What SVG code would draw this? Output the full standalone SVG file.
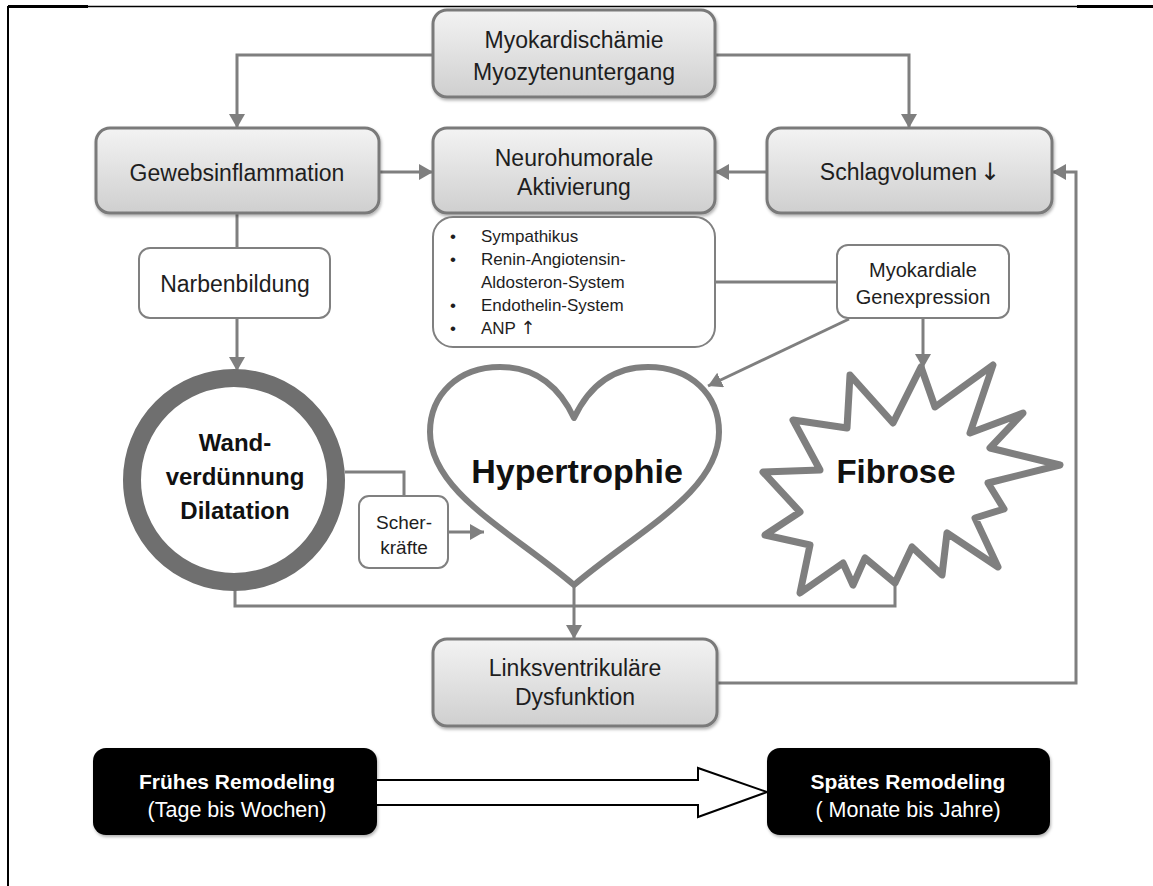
<svg xmlns="http://www.w3.org/2000/svg" width="1153" height="886" viewBox="0 0 1153 886">
<style>
.lbl{font-family:"Liberation Sans",Arial,sans-serif;font-size:23px;fill:#1e1e1e;text-anchor:middle}
.sm{font-family:"Liberation Sans",Arial,sans-serif;font-size:17px;fill:#1e1e1e}
.arr{font-family:"DejaVu Sans",sans-serif}
.bold{font-family:"Liberation Sans",Arial,sans-serif;font-weight:bold;fill:#111;text-anchor:middle}
.wt{font-family:"Liberation Sans",Arial,sans-serif;fill:#fff;text-anchor:middle}
.gbox{fill:url(#g);stroke:#7a7a7a;stroke-width:3;filter:url(#sh)}
.wbox{fill:#fff;stroke:#808080;stroke-width:2}
.con{fill:none;stroke:#7f7f7f;stroke-width:3}
.bbox{fill:#000;filter:url(#sh)}
</style>
<defs>
<linearGradient id="g" x1="0" y1="0" x2="0" y2="1">
<stop offset="0" stop-color="#f3f3f3"/>
<stop offset="1" stop-color="#cfcfcf"/>
</linearGradient>
<filter id="sh" x="-10%" y="-10%" width="120%" height="130%">
<feDropShadow dx="1" dy="2" stdDeviation="1.5" flood-color="#000" flood-opacity="0.3"/>
</filter>
<marker id="ah" viewBox="0 0 14 16" refX="14" refY="8" markerWidth="14" markerHeight="16" markerUnits="userSpaceOnUse" orient="auto">
<path d="M0,0 L14,8 L0,16 z" fill="#7f7f7f"/>
</marker>
</defs>
<rect width="1153" height="886" fill="#fff"/>
<g id="frame">
<line x1="8" y1="6" x2="8" y2="886" stroke="#000" stroke-width="2"/>
<line x1="8" y1="6.5" x2="1153" y2="6.5" stroke="#000" stroke-width="1.5"/>
<line x1="8" y1="6.5" x2="88" y2="6.5" stroke="#000" stroke-width="3"/>
<line x1="1077" y1="6.5" x2="1153" y2="6.5" stroke="#000" stroke-width="3"/>
</g>
<g id="connectors">
<path class="con" d="M433,55 H237 V128" marker-end="url(#ah)"/>
<path class="con" d="M715,55 H909 V128" marker-end="url(#ah)"/>
<path class="con" d="M379,172 H433" marker-end="url(#ah)"/>
<path class="con" d="M767,172 H715" marker-end="url(#ah)"/>
<path class="con" d="M237,213 V248"/>
<path class="con" d="M237,318 V371" marker-end="url(#ah)"/>
<path class="con" d="M715,282 H837"/>
<path class="con" d="M923,318 V368" marker-end="url(#ah)"/>
<path class="con" d="M849,319 L708,386" marker-end="url(#ah)"/>
<path class="con" d="M345,472 H404 V496"/>
<path class="con" d="M448,532 H484" marker-end="url(#ah)"/>
<path class="con" d="M235,590 V606 H895 V583"/>
<path class="con" d="M574,587 V639" marker-end="url(#ah)"/>
<path class="con" d="M717,683 H1076 V172 H1052" marker-end="url(#ah)"/>
</g>
<g id="myokardischaemie">
<rect class="gbox" x="433" y="10" width="282" height="87" rx="14"/>
<text class="lbl" x="574" y="48">Myokardischämie</text>
<text class="lbl" x="574" y="80">Myozytenuntergang</text>
</g>
<g id="gewebsinflammation">
<rect class="gbox" x="96" y="128" width="283" height="85" rx="14"/>
<text class="lbl" x="237" y="181">Gewebsinflammation</text>
</g>
<g id="neurohumorale">
<rect class="gbox" x="433" y="128" width="282" height="85" rx="14"/>
<text class="lbl" x="574" y="166">Neurohumorale</text>
<text class="lbl" x="574" y="195">Aktivierung</text>
</g>
<g id="schlagvolumen">
<rect class="gbox" x="767" y="128" width="285" height="85" rx="14"/>
<text class="lbl" x="910" y="180">Schlagvolumen<tspan class="arr" dx="3" font-size="24">↓</tspan></text>
</g>
<g id="narbenbildung">
<rect class="wbox" x="139" y="248" width="191" height="70" rx="11"/>
<text class="lbl" x="235" y="292">Narbenbildung</text>
</g>
<g id="systeme">
<rect class="wbox" x="433" y="217" width="282" height="130" rx="20"/>
<g class="sm">
<text x="450" y="242">•</text><text x="481" y="242">Sympathikus</text>
<text x="450" y="265">•</text><text x="481" y="265">Renin-Angiotensin-</text>
<text x="481" y="288">Aldosteron-System</text>
<text x="450" y="311">•</text><text x="481" y="311">Endothelin-System</text>
<text x="450" y="334">•</text><text x="481" y="334">ANP <tspan class="arr" font-size="18">↑</tspan></text>
</g>
</g>
<g id="genexpression">
<rect class="wbox" x="837" y="245" width="172" height="73" rx="11"/>
<text class="lbl" x="923" y="277" style="font-size:20px">Myokardiale</text>
<text class="lbl" x="923" y="304" style="font-size:20px">Genexpression</text>
</g>
<g id="wandverduennung">
<circle cx="234" cy="480" r="102" fill="#fff" stroke="#6f6f6f" stroke-width="18"/>
<text class="bold" x="235" y="451" font-size="24">Wand-</text>
<text class="bold" x="235" y="485" font-size="24">verdünnung</text>
<text class="bold" x="235" y="519" font-size="24">Dilatation</text>
</g>
<g id="scherkraefte">
<rect class="wbox" x="359" y="496" width="89" height="72" rx="10"/>
<text class="lbl" x="404" y="529" style="font-size:19px">Scher-</text>
<text class="lbl" x="404" y="554" style="font-size:19px">kräfte</text>
</g>
<g id="hypertrophie">
<path d="M574,418 C556,380 530,367 500,367 C458,367 430,395 430,432 C430,492 512,532 574,585 C636,532 719,492 719,432 C719,395 691,367 648,367 C618,367 592,380 574,418 Z" fill="#fff" stroke="#7f7f7f" stroke-width="6" stroke-linejoin="round"/>
<text class="bold" x="577" y="483" font-size="34">Hypertrophie</text>
</g>
<g id="fibrose">
<path d="M921,367 L935,407 L993,365 L970,433 L1023,413 L990,448 L1060,465 L988,483 L1004,509 L975,518 L998,567 L947,533 L942,575 L912,547 L895,583 L865,558 L853,585 L843,563 L800,593 L810,545 L765,535 L800,512 L763,472 L820,470 L793,420 L847,428 L850,375 L893,423 Z" fill="#fff" stroke="#7f7f7f" stroke-width="7" stroke-linejoin="round"/>
<text class="bold" x="896" y="483" font-size="33">Fibrose</text>
</g>
<g id="linksventrikulaer">
<rect class="gbox" x="433" y="639" width="284" height="87" rx="14"/>
<text class="lbl" x="575" y="676">Linksventrikuläre</text>
<text class="lbl" x="575" y="705">Dysfunktion</text>
</g>
<g id="fruehes">
<rect class="bbox" x="93" y="748" width="284" height="87" rx="13"/>
<text class="wt" x="237" y="789" font-size="21" font-weight="bold">Frühes Remodeling</text>
<text class="wt" x="237" y="817" font-size="21.5">(Tage bis Wochen)</text>
</g>
<g id="spaetes">
<rect class="bbox" x="767" y="748" width="283" height="87" rx="13"/>
<text class="wt" x="908" y="789" font-size="21" font-weight="bold">Spätes Remodeling</text>
<text class="wt" x="908" y="817" font-size="21.5">( Monate bis Jahre)</text>
</g>
<g id="zeitpfeil">
<path d="M377,780 H698 V768 L767,792 L698,817 V805 H377" fill="#fff" stroke="#000" stroke-width="2" stroke-linejoin="miter"/>
</g>
</svg>
